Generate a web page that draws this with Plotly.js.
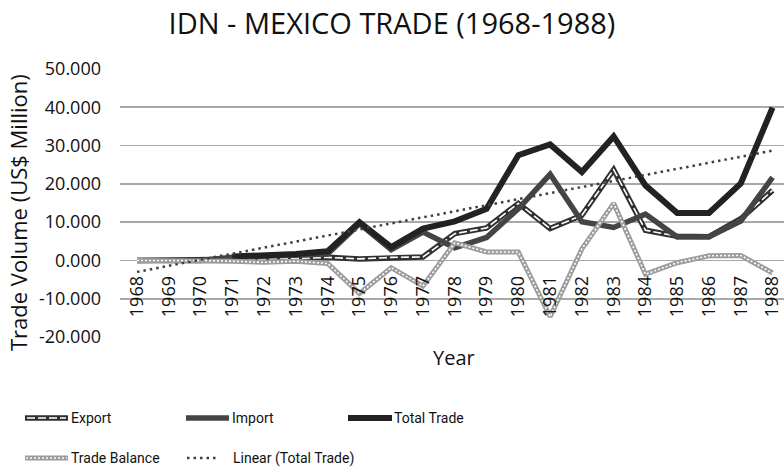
<!DOCTYPE html>
<html>
<head>
<meta charset="utf-8">
<script src="https://cdn.plot.ly/plotly-3.0.1.min.js"></script>
<style>html,body{margin:0;padding:0;background:#fff;}#chart{width:784px;height:470px;}</style>
</head>
<body>
<div id="chart"></div>
<script>
// ---- data ----
const years = [1968,1969,1970,1971,1972,1973,1974,1975,1976,1977,1978,1979,1980,1981,1982,1983,1984,1985,1986,1987,1988];
const exportVals = [0,0,0,0.3,0.4,0.5,0.8,0.4,0.8,0.9,7.0,8.5,14.9,8.3,11.8,23.7,7.9,6.3,6.2,10.9,18.3];
const importVals = [0,0,0,0.8,1.0,1.3,1.7,9.6,2.8,7.4,3.3,6.0,13.5,22.5,10.1,8.6,12.1,6.1,6.2,10.3,21.7];
const totalVals = [null,null,null,1.0,1.3,1.7,2.4,10.0,3.5,8.3,10.2,13.5,27.5,30.3,23.1,32.4,19.6,12.4,12.4,20.1,39.9];
const balanceVals = [0,0,0,-0.2,-0.5,-0.2,-0.8,-8.6,-1.9,-6.7,4.6,2.2,2.2,-14.7,3.0,14.9,-3.6,-0.6,1.2,1.3,-3.3];
const yTickVals = [-20,-10,0,10,20,30,40,50];
const yTickText = ["-20.000","-10.000","0.000","10.000","20.000","30.000","40.000","50.000"];
const legendNames = ["Export","Import","Total Trade","Trade Balance","Linear (Total Trade)"];

// linear trendline of Total Trade (Excel-style, blanks counted as 0)
function linfit(xs, ys){
  const n = xs.length; let sx=0, sy=0;
  for(let i=0;i<n;i++){sx+=xs[i]; sy+=(ys[i]||0);}
  const mx=sx/n, my=sy/n; let sxy=0, sxx=0;
  for(let i=0;i<n;i++){sxy+=(xs[i]-mx)*((ys[i]||0)-my); sxx+=(xs[i]-mx)*(xs[i]-mx);}
  const b=sxy/sxx, a=my-b*mx;
  return xs.map(x=>a+b*x);
}
const trendVals = linfit(years, totalVals);

const FONT = "'Open Sans', sans-serif";
const LEGFONT = "Roboto, 'Open Sans', sans-serif";

// plot box in pixels
const L=120, T=69, W=664, H=268;
const px = x => (x-L)/W;
const py = y => (T+H-y)/H;

const traces = [
  {x:years, y:exportVals, mode:'lines', line:{color:'#303030', width:5.5}, showlegend:false, hoverinfo:'skip'},
  {x:years, y:exportVals, mode:'lines', line:{color:'#ffffff', width:1.6, dash:'8px,3px'}, showlegend:false, name:legendNames[0]},
  {x:years, y:importVals, mode:'lines', line:{color:'#444444', width:5.5}, showlegend:false, name:legendNames[1]},
  {x:years, y:totalVals, mode:'lines', line:{color:'#222222', width:6}, showlegend:false, name:legendNames[2]},
  {x:years, y:balanceVals, mode:'lines', line:{color:'#9c9c9c', width:5}, showlegend:false, hoverinfo:'skip'},
  {x:years, y:balanceVals, mode:'lines', line:{color:'#ffffff', width:1.6, dash:'2px,2px'}, showlegend:false, name:legendNames[3]},
  {x:years, y:trendVals, mode:'lines', line:{color:'#404040', width:2.5, dash:'2.5px,4px'}, showlegend:false, name:legendNames[4]}
];

// custom legend
const shapes = [];
const annotations = [];
function seg(x0,x1,y,color,width,dash){
  shapes.push({type:'line', xref:'paper', yref:'paper', x0:px(x0), x1:px(x1), y0:py(y), y1:py(y), line:{color:color, width:width, dash:dash||'solid'}});
}
function label(x,y,text){
  annotations.push({xref:'paper', yref:'paper', x:px(x), y:py(y), xanchor:'left', yanchor:'middle', text:text, showarrow:false, font:{family:LEGFONT, size:14, color:'#111'}});
}
const r1=418, r2=458;
seg(25,68,r1,'#303030',5.5); seg(27,66,r1,'#ffffff',1.6,'8px,3px'); label(69,r1,legendNames[0]);
seg(186,229,r1,'#444444',5.5); label(230,r1,legendNames[1]);
seg(348,392,r1,'#222222',6); label(392,r1,legendNames[2]);
seg(25,68,r2,'#9c9c9c',5); seg(26,67,r2,'#ffffff',1.6,'2px,2px'); label(69,r2,legendNames[3]);
seg(187,217,r2,'#404040',2.5,'2.5px,4px'); label(231,r2,legendNames[4]);

annotations.push({xref:'paper', yref:'paper', x:px(454), y:py(357), xanchor:'center', yanchor:'middle', text:'Year', showarrow:false, font:{family:FONT, size:20, color:'#111'}});
annotations.push({xref:'paper', yref:'paper', x:px(18), y:py(213), xanchor:'center', yanchor:'middle', textangle:-90, text:'Trade Volume (US$ Million)', showarrow:false, font:{family:FONT, size:22, color:'#111'}});

const layout = {
  width:784, height:470,
  margin:{l:L, r:784-L-W, t:T, b:470-T-H, pad:0},
  paper_bgcolor:'#ffffff', plot_bgcolor:'#ffffff',
  showlegend:false,
  title:{text:'IDN - MEXICO TRADE (1968-1988)', x:0.5, xanchor:'center', y:1-24/470, yanchor:'middle', font:{family:FONT, size:29, color:'#111'}},
  xaxis:{
    range:[1967.465, 1988.36], type:'linear',
    tickvals:years, ticktext:years.map(String), tickangle:-90,
    tickfont:{family:FONT, size:18, color:'#111'},
    showgrid:false, zeroline:false, showline:false, ticks:'',
    anchor:'free', position:(0-(-20))/70, ticklabelstandoff:11
  },
  yaxis:{
    range:[-20,50], tickvals:yTickVals, ticktext:yTickText,
    tickfont:{family:FONT, size:18, color:'#111'},
    showgrid:true, gridcolor:'#a8a8a8', gridwidth:1.6,
    zeroline:true, zerolinecolor:'#a8a8a8', zerolinewidth:1.6,
    showline:false, ticks:'', ticklabelstandoff:18
  },
  shapes:shapes, annotations:annotations
};

Plotly.newPlot('chart', traces, layout, {staticPlot:true, displayModeBar:false});
</script>
</body>
</html>
